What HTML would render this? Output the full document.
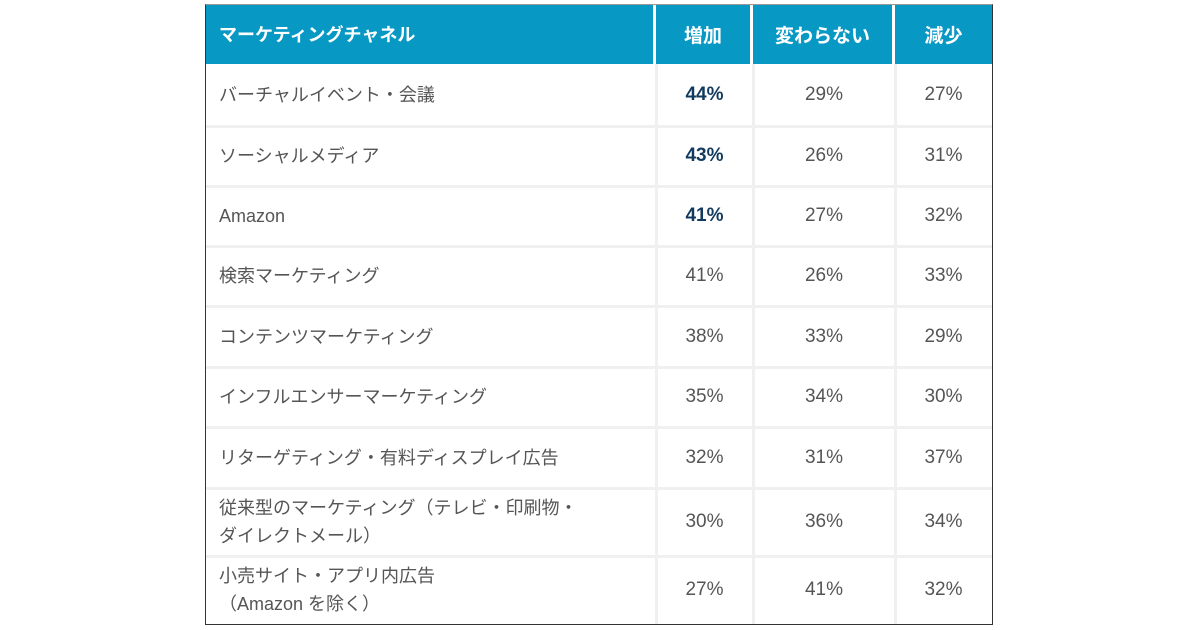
<!DOCTYPE html>
<html><head><meta charset="utf-8"><style>
body{margin:0;width:1200px;height:630px;background:#fff;overflow:hidden;font-family:"Liberation Sans","Noto Sans CJK JP",sans-serif;}
#t{position:absolute;left:205px;top:4px;width:786px;height:619px;border:1.5px solid #333;border-top:1px solid #999;box-sizing:content-box;}
.c{position:absolute;display:flex;align-items:center;box-sizing:border-box;font-size:18px;color:#555;}
.h{background:#0898c4;color:#fff;font-weight:bold;font-size:18px;z-index:2;border-right:3px solid #fff;}
.h.last{border-right:none;}
.l{padding-left:13px;line-height:28px;}
.n{justify-content:center;font-size:19px;}
.b{font-weight:bold;color:#123a5e;}
.vl{position:absolute;width:3px;background:#f0f0f0;z-index:1;}
.hl{position:absolute;height:3px;background:#f0f0f0;left:0;width:786px;}
</style></head><body>
<div id="t"></div>
<script>
const channels=["バーチャルイベント・会議","ソーシャルメディア","Amazon","検索マーケティング","コンテンツマーケティング","インフルエンサーマーケティング","リターゲティング・有料ディスプレイ広告","従来型のマーケティング（テレビ・印刷物・<br>ダイレクトメール）","小売サイト・アプリ内広告<br>（Amazon を除く）"];
const increase=[44,43,41,41,38,35,32,30,27];
const same=[29,26,27,26,33,34,31,36,41];
const decrease=[27,31,32,33,29,30,37,34,32];
const bold=[true,true,true,false,false,false,false,false,false];
const headers=["マーケティングチャネル","増加","変わらない","減少"];
const t=document.getElementById('t');
const colX=[0,450,547,689,786];
const rowY=[0,59,121,181,241,301,362,422,483,551,619];
function cell(x,y,w,h,cls,html,name){const d=document.createElement('div');d.className='c '+cls;d.style.left=x+'px';d.style.top=y+'px';d.style.width=w+'px';d.style.height=h+'px';d.innerHTML=html;


t.appendChild(d);}
for(let i=0;i<4;i++){cell(colX[i],0,colX[i+1]-colX[i],59,'h '+(i?'n':'l')+(i==3?' last':''),headers[i],'header-'+i);}
for(let r=0;r<channels.length;r++){
const y=rowY[r+1],h=rowY[r+2]-y;
cell(0,y,450,h,'l',channels[r],'channel-label');
const vals=[increase[r],same[r],decrease[r]];
for(let k=0;k<3;k++)cell(colX[k+1],y,colX[k+2]-colX[k+1],h,'n'+(k==0&&bold[r]?' b':''),vals[k]+'%','value-cell');
}
for(let i=1;i<4;i++){const v=document.createElement('div');v.className='vl';v.style.left=(colX[i]-1)+'px';v.style.top='0';v.style.height='619px';


t.appendChild(v);}
for(let r=2;r<rowY.length-1;r++){const l=document.createElement('div');l.className='hl';l.style.top=(rowY[r]-1)+'px';


t.appendChild(l);}
</script>
</body></html>
